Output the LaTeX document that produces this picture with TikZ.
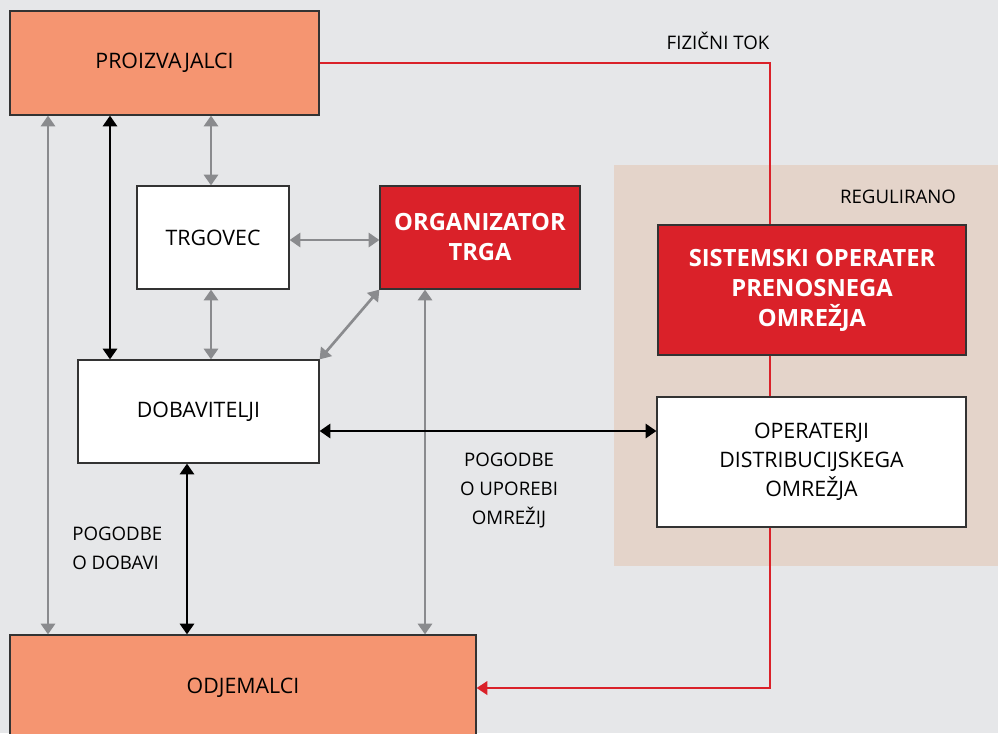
\documentclass[tikz,border=0pt]{standalone}
\usepackage{fontspec}
\setmainfont{Open Sans}
\usetikzlibrary{arrows.meta}
\definecolor{bgc}{HTML}{E6E7E9}
\definecolor{salmon}{HTML}{F59571}
\definecolor{redc}{HTML}{DA2129}
\definecolor{regc}{HTML}{E4D4CA}
\definecolor{grayc}{HTML}{8A8B8E}
\definecolor{edgec}{HTML}{333333}
\tikzset{
  box/.style={draw=edgec, line width=0.9pt, inner sep=0pt, align=center,
    font=\fontsize{16}{21.75}\selectfont},
  salmonbox/.style={box, fill=salmon},
  whitebox/.style={box, fill=white},
  redbox/.style={box, fill=redc, text=white, font=\fontsize{17.8}{22.5}\selectfont\bfseries},
  lbl/.style={inner sep=0pt, align=center, font=\fontsize{14}{21.75}\selectfont},
  tipg/.tip={Triangle[width=10.5pt,length=8pt]},
  garrow/.style={draw=grayc, line width=2pt, {tipg}-{tipg}},
  barrow/.style={draw=black, line width=2pt, {tipg}-{tipg}},
  redline/.style={draw=redc, line width=1.8pt}
}
\begin{document}
\begin{tikzpicture}[x=0.75pt, y=-0.75pt]
\useasboundingbox (0,0) rectangle (998,733);
\fill[bgc] (0,0) rectangle (998,733);
\fill[regc] (614,165) rectangle (998,566);

\node[salmonbox, minimum width=231.75pt, minimum height=78pt] (P) at (164.5,63) {PROIZVAJALCI};
\node[whitebox, minimum width=114pt, minimum height=77.25pt] (T) at (213,237.5) {TRGOVEC};
\node[redbox, minimum width=150pt, minimum height=77.25pt] (G) at (480,237.5) {ORGANIZATOR\\TRGA};
\node[redbox, minimum width=231pt, minimum height=97.5pt] (S) at (812,290) {SISTEMSKI OPERATER\\PRENOSNEGA\\OMREŽJA};
\node[whitebox, minimum width=231.75pt, minimum height=97.5pt] (D) at (811.5,462) {OPERATERJI\\DISTRIBUCIJSKEGA\\OMREŽJA};
\node[whitebox, minimum width=180.75pt, minimum height=77.25pt] (B) at (198.5,411.5) {DOBAVITELJI};
\node[salmonbox, minimum width=349.5pt, minimum height=79.5pt] (O) at (243,688) {ODJEMALCI};

\node[lbl] (reg) at (898,197) {REGULIRANO};
\node[lbl] (fiz) at (718,41) {FIZIČNI TOK};
\node[lbl] (pu) at (509,490) {POGODBE\\O UPOREBI\\OMREŽIJ};
\node[lbl, anchor=west, align=left] (pd) at (72,548) {POGODBE\\O DOBAVI};

\coordinate (x48) at (48,0);
\coordinate (x110) at (110,0);
\coordinate (x211) at (211,0);
\coordinate (x187) at (187,0);
\coordinate (x425) at (425,0);
\coordinate (x770) at (770,0);
\coordinate (y431) at (0,431);
\coordinate (y240) at (0,240);

% red physical flow
\draw[redline] (P.east) -- (P.east -| x770) -- (S.north -| x770);
\draw[redline] (S.south -| x770) -- (D.north -| x770);
\draw[redline, -{Triangle[width=10pt,length=8pt]}] (D.south -| x770) |- (O.east);

% gray arrows
\draw[garrow] (P.south -| x48) -- (O.north -| x48);
\draw[garrow] (P.south -| x211) -- (T.north -| x211);
\draw[garrow] (T.south -| x211) -- (B.north -| x211);
\draw[garrow] (T.east |- y240) -- (G.west |- y240);
\draw[garrow] (G.south west) -- (B.north east);
\draw[garrow] (G.south -| x425) -- (O.north -| x425);

% black arrows
\draw[barrow] (P.south -| x110) -- (B.north -| x110);
\draw[barrow] (B.east |- y431) -- (D.west |- y431);
\draw[barrow] (B.south -| x187) -- (O.north -| x187);
\end{tikzpicture}
\end{document}
